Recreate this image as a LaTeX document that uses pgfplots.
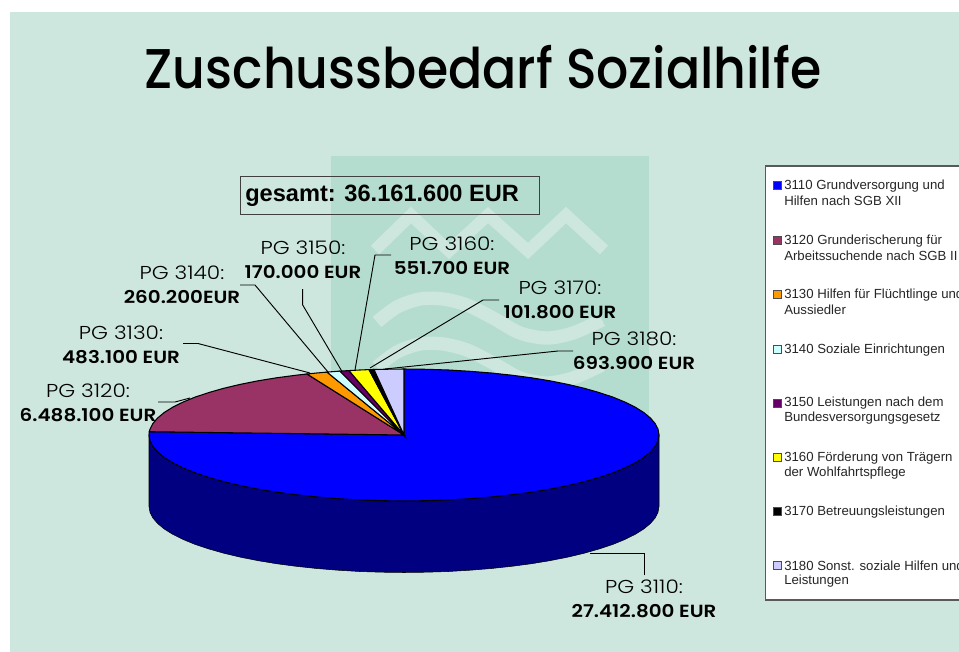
\documentclass[border=0pt]{standalone}
\usepackage{pgfplots}
\pgfplotsset{compat=1.18}
\usepackage{fontspec}
\setmainfont{Liberation Sans}
\newfontfamily\pop[FakeStretch=0.903]{Poppins Medium}
\newfontfamily\popl[FakeStretch=1.16]{Poppins Light}
\newfontfamily\pops[FakeStretch=1.13]{Poppins SemiBold}
\definecolor{bgg}{RGB}{205,231,222}
\definecolor{wmk}{RGB}{181,221,207}
\definecolor{cA}{HTML}{0000FF}
\definecolor{cAd}{HTML}{000080}
\definecolor{cB}{HTML}{993366}
\definecolor{cC}{HTML}{FF9900}
\definecolor{cD}{HTML}{CCFFFF}
\definecolor{cE}{HTML}{660066}
\definecolor{cF}{HTML}{FFFF00}
\definecolor{cG}{HTML}{000000}
\definecolor{cH}{HTML}{CCCCFF}
\newcommand{\pglabel}[4]{\node[align=center,inner sep=0pt,text=black] at (axis cs:#1,#2) {{\popl\fontsize{14}{14}\selectfont #3}};
\node[align=center,inner sep=0pt,text=black] at (axis cs:#1,#2+24) {{\pops\fontsize{13.2}{13.2}\selectfont #4}};}
\newcommand{\legtext}[3]{\node[anchor=west,inner sep=0pt,text=black!85] at (axis cs:#1,#2+1) {\fontsize{9.9}{9.9}\selectfont #3};}
\begin{document}
\begin{tikzpicture}
\path[use as bounding box,clip] (0,0) rectangle (719.25pt,489pt);
\begin{axis}[at={(0,0)},anchor=south west,scale only axis,width=719.25pt,height=489pt,
  xmin=0,xmax=959,ymin=0,ymax=652,y dir=reverse,axis lines=none,clip=false]
% background and watermark
\addplot[fill=bgg,draw=none] coordinates {(10,12)(959,12)(959,652)(10,652)} --cycle;
\addplot[fill=wmk,draw=none] coordinates {(331,156)(649,156)(649,500)(331,500)} --cycle;
\addplot[draw=bgg,line width=9pt,miter limit=10] coordinates {(375,250)(411,215)(449,251)(488,215)(528,251)(566,215)(604,250)};
\addplot[draw=bgg,line width=10pt,smooth] coordinates {(377,322)(397,307)(420,299)(443,299)(467,305)(493,318)(520,333)(547,338)(573,333)(602,320)};
\addplot[draw=bgg,line width=10pt,smooth] coordinates {(377,367)(397,352)(420,344)(443,344)(467,350)(493,363)(520,378)(547,383)(573,378)(602,365)};
% title
\node[inner sep=0pt] at (axis cs:483,67) {{\pop\fontsize{42}{42}\selectfont Zuschussbedarf Sozialhilfe}};
% total box
\addplot[draw=black!75,line width=0.7pt] coordinates {(240,176)(539,176)(539,214)(240,214)} --cycle;
\node[anchor=west,inner sep=0pt] at (axis cs:245,195.5) {\fontsize{17.7}{17.7}\selectfont\bfseries gesamt: 36.161.600 EUR};
% leader lines
\addplot[black,line width=0.7pt] coordinates {(644,575)(644,553)(590,553)};
\addplot[black,line width=0.7pt] coordinates {(158,402)(175,402)(190,398)};
\addplot[black,line width=0.7pt] coordinates {(183,343.5)(198,343.5)(310,373)};
\addplot[black,line width=0.7pt] coordinates {(240,285)(255,285)(328,372)};
\addplot[black,line width=0.7pt] coordinates {(302.7,289)(302.7,305)(341.7,371)};
\addplot[black,line width=0.7pt] coordinates {(391,255)(375,255)(355,370)};
\addplot[black,line width=0.7pt] coordinates {(499,300)(483,300)(370,368)};
\addplot[black,line width=0.7pt] coordinates {(573,351)(558,351)(385,369)};
% labels
\pglabel{303}{248}{PG 3150:}{170.000 EUR}
\pglabel{452}{244}{PG 3160:}{551.700 EUR}
\pglabel{182}{273}{PG 3140:}{260.200EUR}
\pglabel{121}{333}{PG 3130:}{483.100 EUR}
\pglabel{88}{391}{PG 3120:}{6.488.100 EUR}
\pglabel{560}{288}{PG 3170:}{101.800 EUR}
\pglabel{634}{339}{PG 3180:}{693.900 EUR}
\pglabel{644}{587}{PG 3110:}{27.412.800 EUR}
% pie side wall
\addplot[fill=cAd,draw=black,line width=0.4pt] coordinates {(149,435)(659,435)(659,506.5)(658,512.3)(655.1,518)(650.3,523.6)(643.6,529.1)(635.1,534.4)(624.8,539.5)(612.9,544.4)(599.3,548.9)(584.3,553.2)(567.9,557.1)(550.3,560.6)(531.5,563.7)(511.8,566.3)(491.2,568.5)(470,570.2)(448.3,571.5)(426.2,572.2)(404,572.5)(381.8,572.2)(359.7,571.5)(338,570.2)(316.8,568.5)(296.2,566.3)(276.5,563.7)(257.7,560.6)(240.1,557.1)(223.7,553.2)(208.7,548.9)(195.1,544.4)(183.2,539.5)(172.9,534.4)(164.4,529.1)(157.7,523.6)(152.9,518)(150,512.3)(149,506.5)} --cycle;
% pie top: 3110
\addplot[fill=cA,draw=black,line width=0.8pt] coordinates {(404,435)(404,369)(426.2,369.3)(448.3,370)(470,371.3)(491.2,373)(511.8,375.2)(531.5,377.8)(550.3,380.9)(567.9,384.4)(584.3,388.3)(599.3,392.6)(612.9,397.1)(624.8,402)(635.1,407.1)(643.6,412.4)(650.3,417.9)(655.1,423.5)(658,429.2)(659,435)(658,440.8)(655.1,446.5)(650.3,452.1)(643.6,457.6)(635.1,462.9)(624.8,468)(612.9,472.9)(599.3,477.4)(584.3,481.7)(567.9,485.6)(550.3,489.1)(531.5,492.2)(511.8,494.8)(491.2,497)(470,498.7)(448.3,500)(426.2,500.7)(404,501)(381.8,500.7)(359.7,500)(338,498.7)(316.8,497)(296.2,494.8)(276.5,492.2)(257.7,489.1)(240.1,485.6)(223.7,481.7)(208.7,477.4)(195.1,472.9)(183.2,468)(172.9,462.9)(164.4,457.6)(157.7,452.1)(152.9,446.5)(150,440.8)(149,435)(149.3,431.7)} --cycle;
% 3120
\addplot[fill=cB,draw=black,line width=0.8pt] coordinates {(404,435)(149.3,431.7)(150,429.2)(152.9,423.5)(157.7,417.9)(164.4,412.4)(172.9,407.1)(183.2,402)(195.1,397.1)(208.7,392.6)(223.7,388.3)(240.1,384.4)(257.7,380.9)(276.5,377.8)(296.2,375.2)(307,374)} --cycle;
% 3130
\addplot[fill=cC,draw=black,line width=0.8pt] coordinates {(404,435)(307,374)(316.8,373)(327,372.1)} --cycle;
% 3140
\addplot[fill=cD,draw=black,line width=0.8pt] coordinates {(404,435)(327,372.1)(340,371.1)} --cycle;
% 3150
\addplot[fill=cE,draw=black,line width=0.8pt] coordinates {(404,435)(340,371.1)(349,370.6)} --cycle;
% 3160
\addplot[fill=cF,draw=black,line width=0.8pt] coordinates {(404,435)(349,370.6)(359.7,370)(369,369.6)} --cycle;
% 3170
\addplot[fill=cG,draw=black,line width=0.8pt] coordinates {(404,435)(369,369.6)(374,369.5)} --cycle;
% 3180
\addplot[fill=cH,draw=black,line width=0.8pt] coordinates {(404,435)(374,369.5)(381.8,369.3)(404,369)} --cycle;
% legend
\addplot[fill=white,draw=black!65,line width=0.9pt] coordinates {(765.5,166)(975,166)(975,600)(765.5,600)} --cycle;
\addplot[only marks,mark=square*,mark size=3pt,mark options={fill=cA,draw=black!70,line width=0.5pt}] coordinates {(777,185.5)};
\addplot[only marks,mark=square*,mark size=3pt,mark options={fill=cB,draw=black!70,line width=0.5pt}] coordinates {(777,240)};
\addplot[only marks,mark=square*,mark size=3pt,mark options={fill=cC,draw=black!70,line width=0.5pt}] coordinates {(777,294.5)};
\addplot[only marks,mark=square*,mark size=3pt,mark options={fill=cD,draw=black!70,line width=0.5pt}] coordinates {(777,349)};
\addplot[only marks,mark=square*,mark size=3pt,mark options={fill=cE,draw=black!70,line width=0.5pt}] coordinates {(777,403)};
\addplot[only marks,mark=square*,mark size=3pt,mark options={fill=cF,draw=black!70,line width=0.5pt}] coordinates {(777,457)};
\addplot[only marks,mark=square*,mark size=3pt,mark options={fill=cG,draw=black!70,line width=0.5pt}] coordinates {(777,511)};
\addplot[only marks,mark=square*,mark size=3pt,mark options={fill=cH,draw=black!70,line width=0.5pt}] coordinates {(777,565)};
\legtext{784}{185}{3110 Grundversorgung und}
\legtext{784}{200}{Hilfen nach SGB XII}
\legtext{784}{240}{3120 Grunderischerung für}
\legtext{784}{255}{Arbeitssuchende nach SGB II}
\legtext{784}{294}{3130 Hilfen für Flüchtlinge und}
\legtext{784}{309}{Aussiedler}
\legtext{784}{349}{3140 Soziale Einrichtungen}
\legtext{784}{402}{3150 Leistungen nach dem}
\legtext{784}{417}{Bundesversorgungsgesetz}
\legtext{784}{457}{3160 Förderung von Trägern}
\legtext{784}{472}{der Wohlfahrtspflege}
\legtext{784}{511}{3170 Betreuungsleistungen}
\legtext{784}{565}{3180 Sonst. soziale Hilfen und}
\legtext{784}{580}{Leistungen}
\end{axis}
\end{tikzpicture}
\end{document}
